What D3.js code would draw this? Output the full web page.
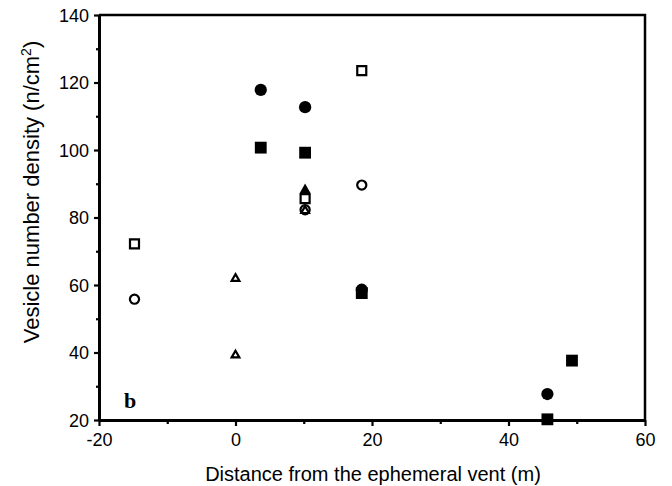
<!DOCTYPE html>
<html>
<head>
<meta charset="utf-8">
<script src="https://cdn.jsdelivr.net/npm/d3@7/dist/d3.min.js"></script>
<style>
  html, body { margin: 0; padding: 0; background: #fff; }
  svg { display: block; }
  text { font-family: "Liberation Sans", Arial, sans-serif; }
</style>
</head>
<body>
<svg id="chart" width="672" height="486"></svg>
<script>
// Vesicle number density vs. distance from the ephemeral vent, one array per sample group
const filledCircles   = [[3.7, 117.8], [10.2, 112.7], [18.5, 58.6], [45.7, 27.7]];
const filledSquares   = [[3.7, 100.7], [10.2, 99.2], [18.5, 57.6], [45.7, 20.2], [49.3, 37.6]];
const filledTriangles = [[10.2, 88.2]];
const openSquares     = [[-14.8, 72.2], [10.2, 85.6], [18.5, 123.5]];
const openCircles     = [[-14.8, 55.8], [10.2, 82.3], [18.5, 89.6]];
const openTriangles   = [[0, 61.9], [0, 39.2], [10.2, 82.0]];

const xTicks = [-20, 0, 20, 40, 60];
const xMinorTicks = [-10, 10, 30, 50];
const yTicks = [20, 40, 60, 80, 100, 120, 140];
const yMinorTicks = [30, 50, 70, 90, 110, 130];

const xTitle = "Distance from the ephemeral vent (m)";
const panelLabel = "b";

const svg = d3.select("#chart");
const plotLeft = 99, plotRight = 645, plotTop = 15, plotBottom = 420;

const x = d3.scaleLinear().domain([-20, 60]).range([plotLeft, plotRight]);
const y = d3.scaleLinear().domain([20, 140]).range([plotBottom, plotTop]);

// Frame: top and right edges
svg.append("path")
  .attr("d", `M${plotLeft},${plotTop}H${plotRight}V${plotBottom}`)
  .attr("fill", "none").attr("stroke", "#000").attr("stroke-width", 2.5);

// Axes with major and minor ticks
const plainNumber = d => String(d);
function styleAxis(g) {
  g.selectAll(".domain").attr("stroke", "#000").attr("stroke-width", 3);
  g.selectAll(".tick line").attr("stroke", "#000").attr("stroke-width", 2.2);
  g.selectAll(".tick text").attr("fill", "#000").style("font-size", "18px")
    .style("font-family", "'Liberation Sans', Arial, sans-serif");
}

const gx = svg.append("g").attr("transform", `translate(0,${plotBottom})`)
  .call(d3.axisBottom(x).tickValues(xTicks).tickFormat(plainNumber)
        .tickSize(6).tickSizeOuter(0).tickPadding(7));
styleAxis(gx);
const gxm = svg.append("g").attr("transform", `translate(0,${plotBottom})`)
  .call(d3.axisBottom(x).tickValues(xMinorTicks).tickFormat("").tickSize(4).tickSizeOuter(0));
styleAxis(gxm);
gxm.select(".domain").remove();

const gy = svg.append("g").attr("transform", `translate(${plotLeft},0)`)
  .call(d3.axisLeft(y).tickValues(yTicks).tickFormat(plainNumber)
        .tickSize(5).tickSizeOuter(0).tickPadding(5));
styleAxis(gy);
gy.selectAll(".tick text").attr("dy", "0.35em");
const gym = svg.append("g").attr("transform", `translate(${plotLeft},0)`)
  .call(d3.axisLeft(y).tickValues(yMinorTicks).tickFormat("").tickSize(3).tickSizeOuter(0));
styleAxis(gym);
gym.select(".domain").remove();

// Axis titles
svg.append("text")
  .attr("x", 373).attr("y", 481)
  .attr("text-anchor", "middle").style("font-size", "20px").attr("fill", "#000")
  .text(xTitle);

const yt = svg.append("text")
  .attr("transform", `translate(39,192) rotate(-90)`)
  .attr("text-anchor", "middle").style("font-size", "22px").attr("fill", "#000");
yt.append("tspan").text("Vesicle number density (n/cm");
yt.append("tspan").attr("dy", "-8").style("font-size", "14px").text("2");
yt.append("tspan").attr("dy", "8").text(")");

// Panel label
svg.append("text")
  .attr("x", 124).attr("y", 408)
  .style("font-family", "'Liberation Serif', 'Times New Roman', serif")
  .style("font-size", "22px").style("font-weight", "bold").attr("fill", "#000")
  .text(panelLabel);

// Markers
function drawSeries(data, type, size, filled) {
  svg.append("g").selectAll("path").data(data).join("path")
    .attr("transform", d => `translate(${x(d[0])},${y(d[1])})`)
    .attr("d", d3.symbol().type(type).size(size)())
    .attr("fill", filled ? "#000" : "#fff")
    .attr("stroke", "#000")
    .attr("stroke-width", filled ? 0 : 2.2);
}

drawSeries(filledCircles, d3.symbolCircle, 118, true);
drawSeries(filledSquares, d3.symbolSquare, 140, true);
drawSeries(filledTriangles, d3.symbolTriangle, 50, true);
drawSeries(openSquares, d3.symbolSquare, 81, false);
drawSeries(openCircles, d3.symbolCircle, 66, false);
drawSeries(openTriangles, d3.symbolTriangle, 26, false);
</script>
</body>
</html>
